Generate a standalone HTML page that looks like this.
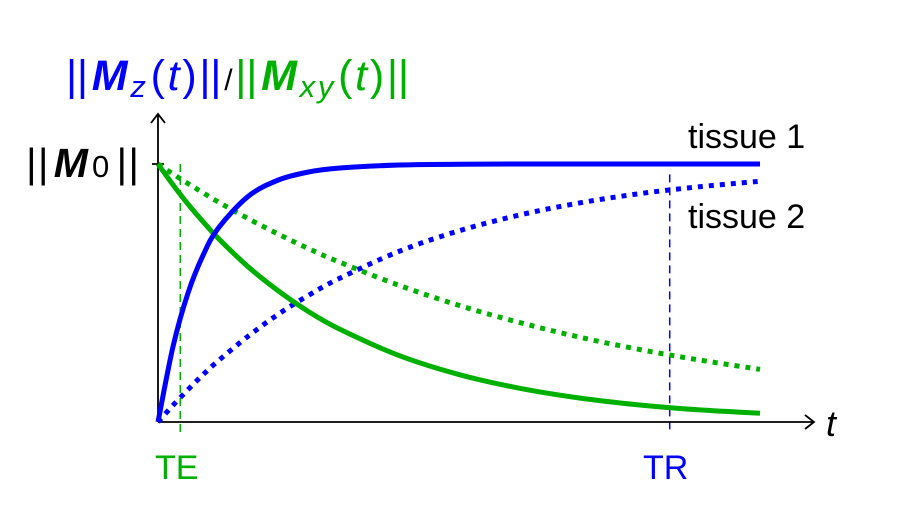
<!DOCTYPE html>
<html><head><meta charset="utf-8"><style>
body{margin:0;background:#fff}
svg{display:block;font-family:"Liberation Sans","DejaVu Sans",sans-serif}
</style></head><body>
<svg width="898" height="518" viewBox="0 0 898 518">
<g id="plot"></g>
<g font-size="43">
<text x="66" y="90" fill="#0000ff" textLength="340" lengthAdjust="spacing"><tspan letter-spacing="-3">||</tspan><tspan dx="4" font-weight="bold" font-style="italic">M</tspan><tspan font-style="italic" font-size="31" dy="7">z</tspan><tspan dy="-7" dx="2">(</tspan><tspan font-style="italic">t</tspan>)<tspan letter-spacing="-3">||</tspan><tspan dx="3" fill="#000" font-size="30">/</tspan><tspan fill="#00b000"><tspan letter-spacing="-3">||</tspan><tspan dx="4" font-weight="bold" font-style="italic">M</tspan><tspan font-style="italic" font-size="31" dy="7">xy</tspan><tspan dy="-7" dx="2">(</tspan><tspan font-style="italic">t</tspan>)<tspan letter-spacing="-3">||</tspan></tspan></text>
</g>
<text x="26" y="177" font-size="41" textLength="110" lengthAdjust="spacing"><tspan letter-spacing="-3">||</tspan><tspan dx="4" font-weight="bold" font-style="italic">M</tspan><tspan font-size="31">0</tspan><tspan dx="3" letter-spacing="-3">||</tspan></text>
<text x="826" y="436" font-size="36" font-style="italic">t</text>
<text x="155" y="479" font-size="34" fill="#00b000">TE</text>
<text x="643" y="479" font-size="34" fill="#0000ff">TR</text>
<text x="688" y="148" font-size="34">tissue 1</text>
<text x="688" y="228" font-size="34">tissue 2</text>
</svg>
<script>
const times=[0,0.25,0.5,0.75,1,1.5,2,2.5,3,4,5,6,7,8,9,10];
const mz1=[0,0.293,0.501,0.647,0.751,0.875,0.938,0.969,0.984,0.996,0.999,1,1,1,1,1];
const mz2=[0,0.065,0.126,0.184,0.237,0.333,0.418,0.491,0.555,0.661,0.741,0.802,0.849,0.885,0.912,0.933];
const mxy1=[1,0.919,0.844,0.776,0.712,0.601,0.508,0.428,0.362,0.258,0.184,0.131,0.093,0.066,0.047,0.034];
const mxy2=[1,0.961,0.924,0.888,0.853,0.788,0.728,0.672,0.621,0.530,0.452,0.386,0.329,0.281,0.240,0.204];
const TE=0.37, TR=8.5;
const NS="http://www.w3.org/2000/svg";
const X=t=>158+t*60.2, Y=v=>422-v*258;
const g=document.getElementById('plot');
function mk(tag,attrs){const e=document.createElementNS(NS,tag);for(const k in attrs)e.setAttribute(k,attrs[k]);g.appendChild(e);return e;}
function path(vals){
  const p=times.map((t,i)=>[X(t),Y(vals[i])]);
  let d=`M${p[0][0]},${p[0][1]}`;
  for(let i=0;i<p.length-1;i++){
    const p0=p[Math.max(i-1,0)],p1=p[i],p2=p[i+1],p3=p[Math.min(i+2,p.length-1)];
    d+=` C${p1[0]+(p2[0]-p0[0])/6},${p1[1]+(p2[1]-p0[1])/6} ${p2[0]-(p3[0]-p1[0])/6},${p2[1]-(p3[1]-p1[1])/6} ${p2[0]},${p2[1]}`;
  }
  return d;
}
let e;
e=mk('line',{x1:X(TE),y1:Y(1),x2:X(TE),y2:432,stroke:'#00b000','stroke-width':1.5,'stroke-dasharray':'8 5'});


e=mk('line',{x1:X(TR),y1:Y(0.96),x2:X(TR),y2:432,stroke:'#0000ff','stroke-width':1.5,'stroke-dasharray':'8 5'});


e=mk('path',{d:'M158,422 H813 M805,415 L814,422 L805,429',stroke:'#000','stroke-width':1.8,fill:'none'});


e=mk('path',{d:'M158,422 V114 M151,123 L158,114 L165,123 M152,164 H164',stroke:'#000','stroke-width':1.8,fill:'none'});


e=mk('path',{d:path(mxy2),stroke:'#00b000','stroke-width':5,fill:'none','stroke-dasharray':'5 6'});


e=mk('path',{d:path(mz2),stroke:'#0000ff','stroke-width':5,fill:'none','stroke-dasharray':'5 6'});


e=mk('path',{d:path(mxy1),stroke:'#00b000','stroke-width':5,fill:'none'});


e=mk('path',{d:path(mz1),stroke:'#0000ff','stroke-width':5,fill:'none'});


</script>
</body></html>
